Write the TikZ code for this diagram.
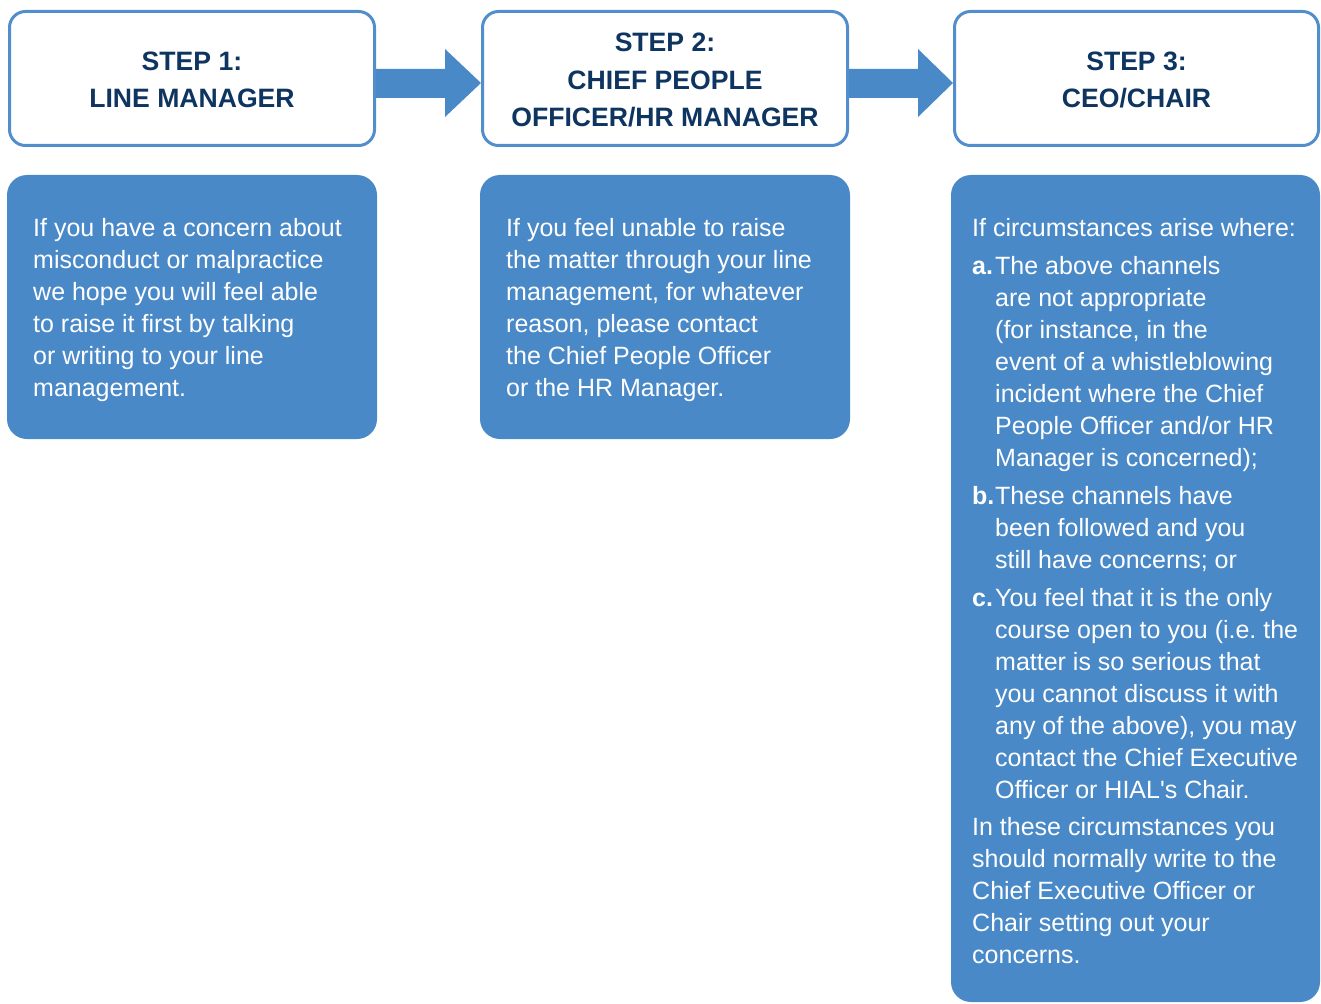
\documentclass[tikz,border=0pt]{standalone}
\usepackage{fontspec}
\setmainfont{Liberation Sans}
\newfontfamily\plainfont{Liberation Sans}
\definecolor{boxblue}{RGB}{74,137,199}
\definecolor{lineblue}{RGB}{82,142,204}
\definecolor{navy}{RGB}{14,52,96}
\begin{document}
\frenchspacing
\begin{tikzpicture}[x=1pt,y=-1pt,
 head/.style={draw=lineblue, line width=3pt, fill=white, rounded corners=16pt, minimum width=365pt, minimum height=134pt, inner sep=0pt},
 panel/.style={fill=boxblue, rounded corners=20pt, inner sep=0pt},
 htext/.style={text=navy, font=\fontsize{26.6}{30}\selectfont\bfseries, anchor=base, inner sep=0pt},
 btext/.style={text=white, font=\fontsize{25}{30}\selectfont, anchor=base west, inner sep=0pt},
 arrowfill/.style={fill=boxblue}
 ]
\useasboundingbox (0,0) rectangle (1321,1003);

% header boxes
\node[head] (h1) at (192,78.5) {};
\node[head] (h2) at (665,78.5) {};
\node[head, minimum width=364pt] (h3) at (1136.5,78.5) {};

\node[htext] (h1a) at (192,71) {STEP 1:};
\node[htext] (h1b) at (192,108) {LINE MANAGER};
\node[htext] (h2a) at (665,52) {STEP 2:};
\node[htext] (h2b) at (665,90) {CHIEF PEOPLE};
\node[htext] (h2c) at (665,127) {OFFICER/HR MANAGER};
\node[htext] (h3a) at (1136.5,71) {STEP 3:};
\node[htext] (h3b) at (1136.5,108) {CEO/CHAIR};

% arrows
\fill[arrowfill] (h1.east |- 0,69) -- (445,69) -- (445,49) -- (h2.west |- 0,83) -- (445,117) -- (445,98) -- (h1.east |- 0,98) -- cycle;
\fill[arrowfill] (h2.east |- 0,69) -- (918,69) -- (918,49) -- (h3.west |- 0,83) -- (918,117) -- (918,98) -- (h2.east |- 0,98) -- cycle;

% panels
\node[panel, minimum width=370pt, minimum height=264pt] (p1) at (192,307) {};
\node[panel, minimum width=370pt, minimum height=264pt] (p2) at (665,307) {};
\node[panel, minimum width=369pt, minimum height=827pt] (p3) at (1135.5,588.5) {};

% panel 1 text
\node[btext] (t1a) at (33,236) {If you have a concern about};
\node[btext] (t1b) at (33,268) {misconduct or malpractice};
\node[btext] (t1c) at (33,300) {we hope you will feel able};
\node[btext] (t1d) at (33,332) {to raise it first by talking};
\node[btext] (t1e) at (33,364) {or writing to your line};
\node[btext] (t1f) at (33,396) {management.};

% panel 2 text
\node[btext] (t2a) at (506,236) {If you feel unable to raise};
\node[btext] (t2b) at (506,268) {the matter through your line};
\node[btext] (t2c) at (506,300) {management, for whatever};
\node[btext] (t2d) at (506,332) {reason, please contact};
\node[btext] (t2e) at (506,364) {the Chief People Officer};
\node[btext] (t2f) at (506,396) {or the HR Manager.};

% panel 3 text
\node[btext] (t3a) at (972,236) {If circumstances arise where:};
\node[btext] (la) at (972,274) {\bfseries a.};
\node[btext] (t3b) at (995,274) {The above channels};
\node[btext] (t3c) at (995,306) {are not appropriate};
\node[btext] (t3d) at (995,338) {(for instance, in the};
\node[btext] (t3e) at (995,370) {event of a whistleblowing};
\node[btext] (t3f) at (995,402) {incident where the Chief};
\node[btext] (t3g) at (995,434) {People Officer and/or HR};
\node[btext] (t3h) at (995,466) {Manager is concerned);};
\node[btext] (lb) at (972,504) {\bfseries b.};
\node[btext] (t3i) at (995,504) {These channels have};
\node[btext] (t3j) at (995,536) {been followed and you};
\node[btext] (t3k) at (995,568) {still have concerns; or};
\node[btext] (lc) at (972,606) {\bfseries c.};
\node[btext] (t3l) at (995,606) {You feel that it is the only};
\node[btext] (t3m) at (995,638) {course open to you (i.e. the};
\node[btext] (t3n) at (995,670) {matter is so serious that};
\node[btext] (t3o) at (995,702) {you cannot discuss it with};
\node[btext] (t3p) at (995,734) {any of the above), you may};
\node[btext] (t3q) at (995,766) {contact the Chief Executive};
\node[btext] (t3r) at (995,798) {Officer or HIAL{\plainfont '}s Chair.};
\node[btext] (t3s) at (972,835) {In these circumstances you};
\node[btext] (t3t) at (972,867) {should normally write to the};
\node[btext] (t3u) at (972,899) {Chief Executive Officer or};
\node[btext] (t3v) at (972,931) {Chair setting out your};
\node[btext] (t3w) at (972,963) {concerns.};
\end{tikzpicture}
\end{document}
